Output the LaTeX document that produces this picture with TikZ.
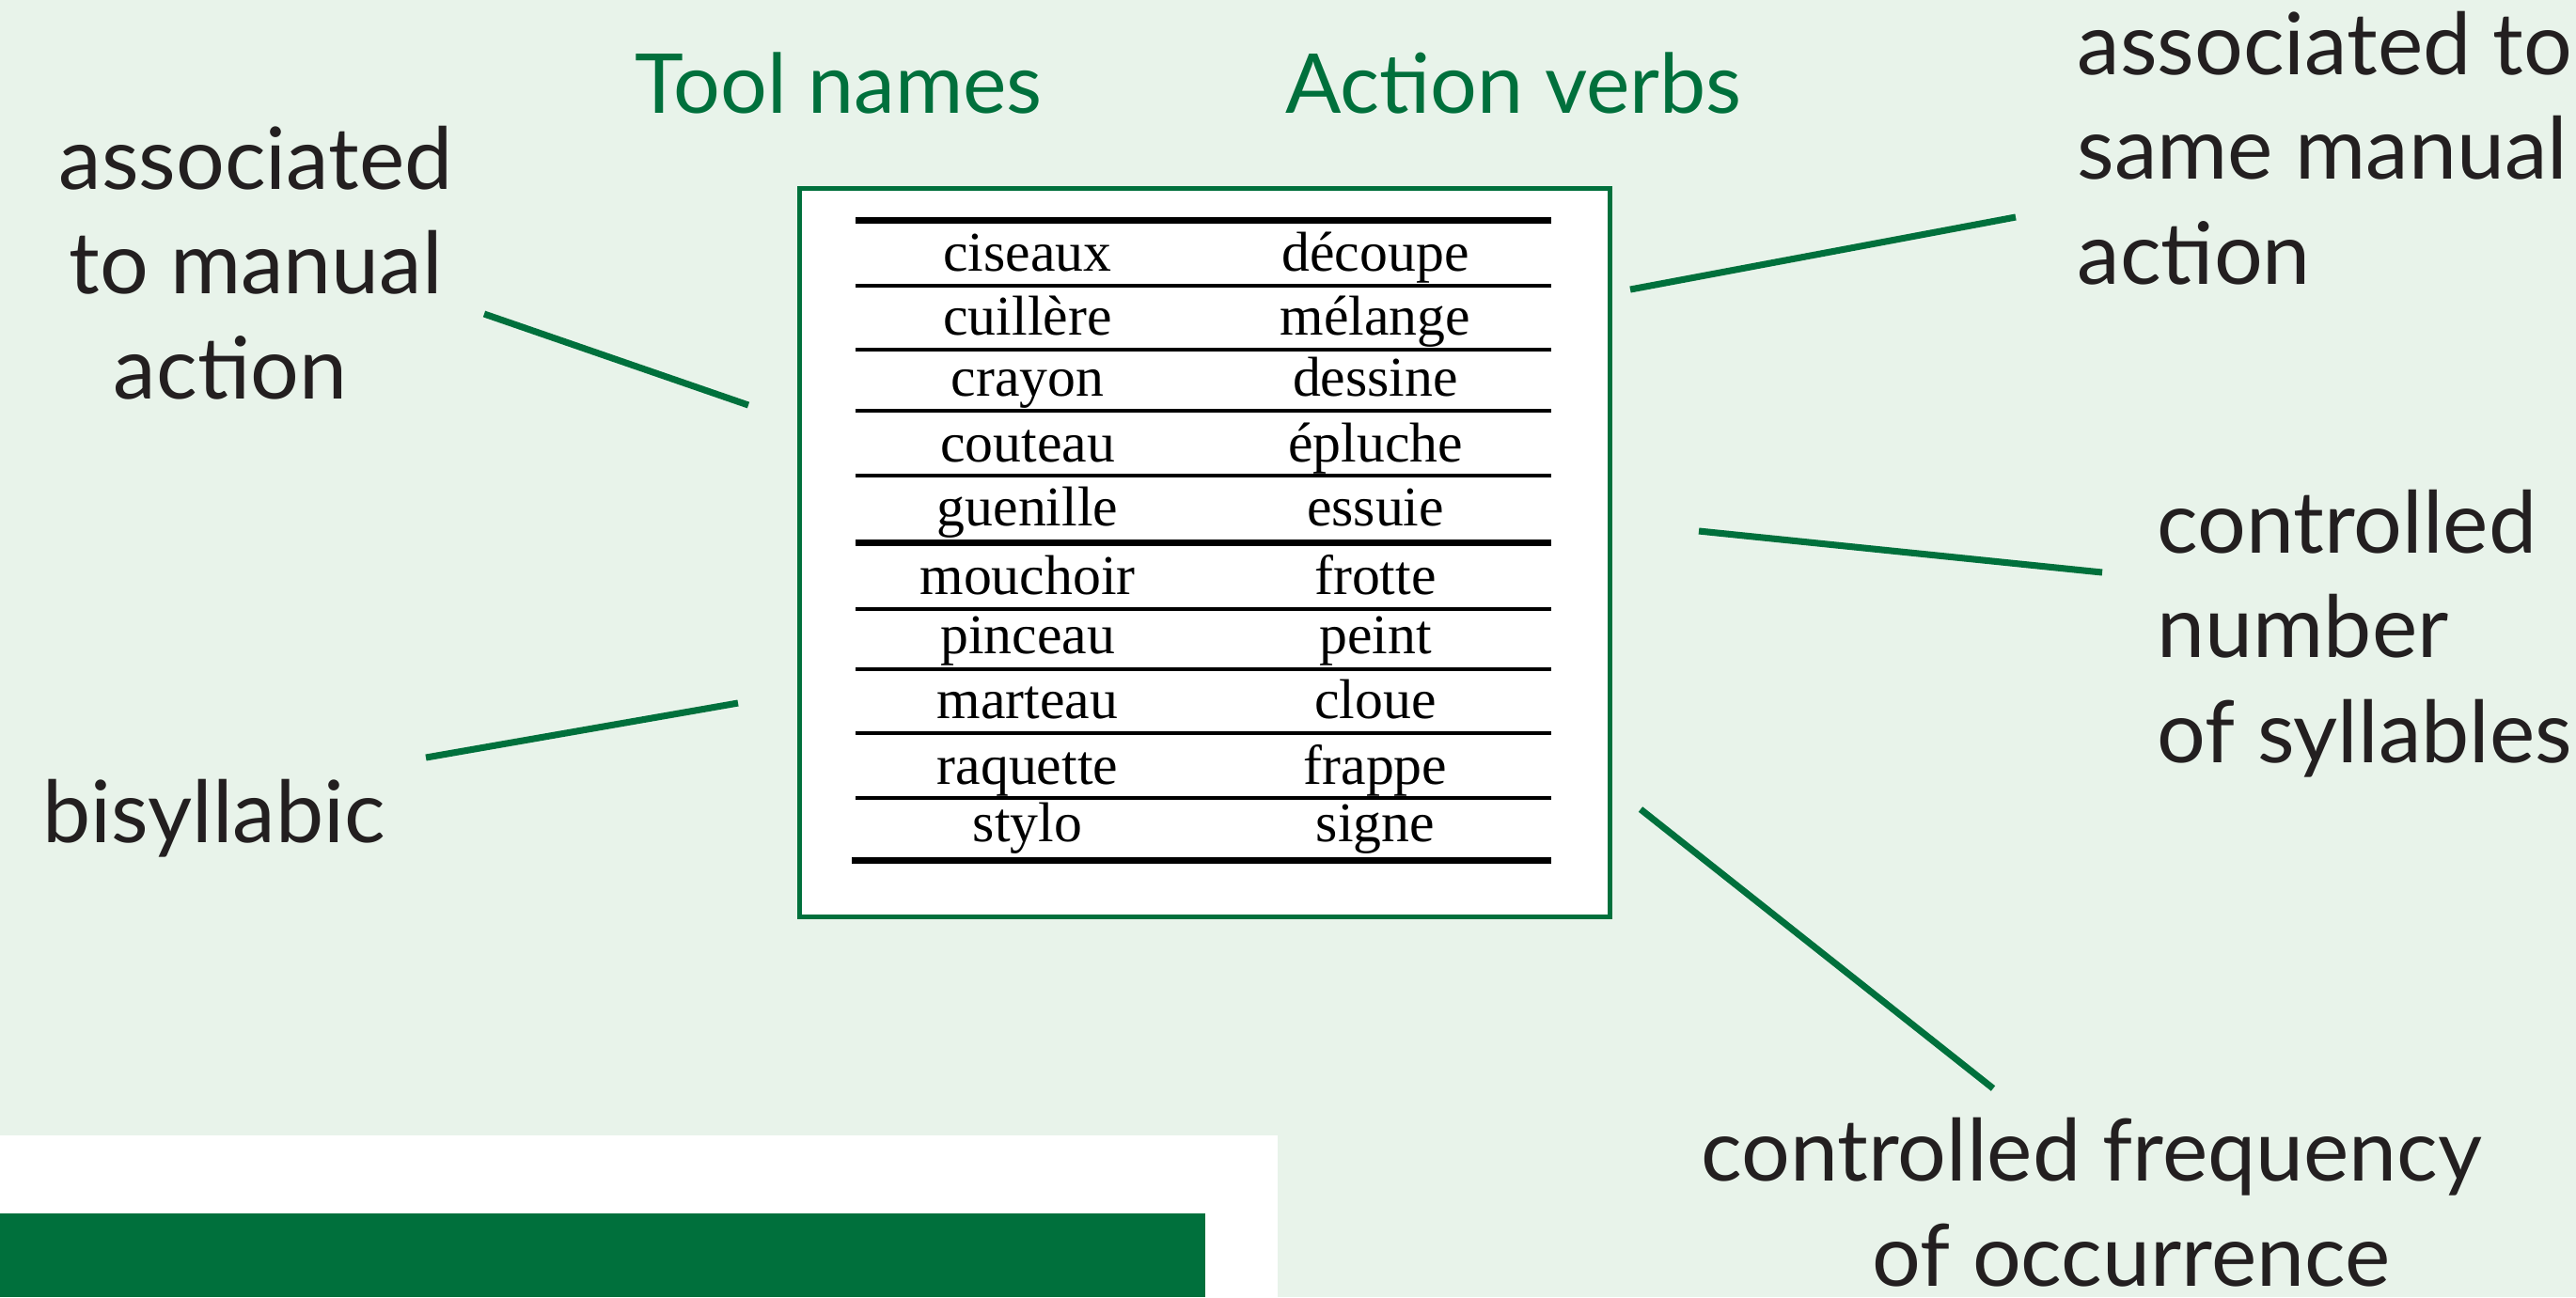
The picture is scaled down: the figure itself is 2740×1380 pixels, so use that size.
\documentclass[tikz,border=0pt]{standalone}
\usepackage{fontspec}
\newfontfamily\notefont{Lato}
\newfontfamily\cellfont{Liberation Serif}
\definecolor{paleback}{RGB}{232,243,234}
\definecolor{darkgreen}{RGB}{0,112,60}
\definecolor{inkblack}{RGB}{35,31,32}
\tikzset{
  note/.style={font=\notefont\fontsize{26}{31.6}\selectfont, text=inkblack, inner sep=0pt},
  head/.style={font=\notefont\fontsize{25}{30}\selectfont, text=darkgreen, inner sep=0pt},
  cell/.style={font=\cellfont\fontsize{17}{20}\selectfont, inner sep=0pt, anchor=base},
  pointer/.style={darkgreen, line width=2pt},
  thinrule/.style={line width=0.4mm},
  thickrule/.style={line width=0.7mm},
}
\begin{document}
\begin{tikzpicture}[x=0.1mm,y=-0.1mm]
      \fill[paleback] (0,0) rectangle (2740,1380);
      \useasboundingbox (0,0) rectangle (2740,1380);

      % footer band
      \fill[white] (0,1208) rectangle (1359,1380);
      \fill[darkgreen] (0,1291) rectangle (1282,1380);

      % table frame
      \draw[darkgreen, line width=0.5mm, fill=white] (850,200) rectangle (1712,975);

      % column heads
      \node[head, anchor=base] (toolhead) at (892,120) {Tool names};
      \node[head, anchor=base] (verbhead) at (1610,120) {Action verbs};

      % rules
      \foreach \y in {304, 372, 437, 506, 648, 712, 780, 849} {
        \draw[thinrule] (910,\y) -- (1650,\y);
      }
      \draw[thickrule] (910,234) -- (1650,234);
      \draw[thickrule] (910,577) -- (1650,577);
      \draw[thickrule] (906,915) -- (1650,915);

      % rows
      \foreach \tname/\vname/\y [count=\i] in {ciseaux/découpe/288, cuillère/mélange/356,
          crayon/dessine/421, couteau/épluche/491, guenille/essuie/559,
          mouchoir/frotte/632, pinceau/peint/695, marteau/cloue/764,
          raquette/frappe/834, stylo/signe/895} {
        \node[cell] (tool\i) at (1093,\y) {\tname};
        \node[cell] (verb\i) at (1463,\y) {\vname};
      }

      % notes (base = last line)
      \node[note, align=center, anchor=base] (manual) at (272,424) {associated\\to manual\\\hspace*{-5.4mm}action};
      \node[note, anchor=base west] (bisyl) at (45,896) {bisyllabic};
      \node[note, align=left, anchor=base west] (same) at (2209,302) {associated to\\same manual\\action};
      \node[note, align=left, anchor=base west] (sylls) at (2294,811) {controlled\\number\\of syllables};
      \node[note, align=center, anchor=base] (freq) at (2225,1368) {controlled frequency\\\hspace*{8.4mm}of occurrence};

      % pointer ends
      \coordinate (manual-a) at (515,334);
      \coordinate (manual-b) at (796,431);
      \coordinate (bisyl-a) at (453,806);
      \coordinate (bisyl-b) at (785,748);
      \coordinate (same-a) at (1734,308);
      \coordinate (same-b) at (2144,231);
      \coordinate (sylls-a) at (1807,565);
      \coordinate (sylls-b) at (2236,609);
      \coordinate (freq-a) at (1745,861);
      \coordinate (freq-b) at (2120,1158);
      \foreach \n in {manual, bisyl, same, sylls, freq} {
        \draw[pointer] (\n-a) -- (\n-b);
      }
\end{tikzpicture}
\end{document}
